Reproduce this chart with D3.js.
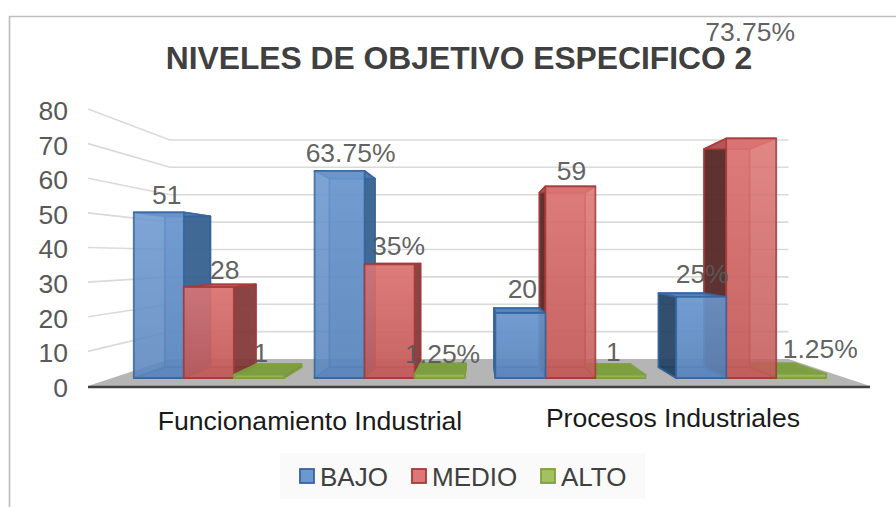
<!DOCTYPE html>
<html>
<head>
<meta charset="utf-8">
<script src="https://cdn.jsdelivr.net/npm/d3@7"></script>
<style>
  html, body { margin: 0; padding: 0; background: #fff; }
  svg { display: block; }
  text { font-family: "Liberation Sans", Arial, sans-serif; }
</style>
</head>
<body>
<div id="chart"></div>
<script>
var title = "NIVELES DE OBJETIVO ESPECIFICO 2";
var clusters = ["Funcionamiento f", "Funcionamiento %", "Procesos f", "Procesos %"];
var seriesNames = ["BAJO", "MEDIO", "ALTO"];
var bajo = [51, 63.75, 20, 25];
var medio = [28, 35, 59, 73.75];
var alto = [1, 1.25, 1, 1.25];
var bajoLabels = ["51", "63.75%", "20", "25%"];
var medioLabels = ["28", "35%", "59", "73.75%"];
var altoLabels = ["1", "1.25%", "1", "1.25%"];
var yTicks = [0, 10, 20, 30, 40, 50, 60, 70, 80];
var groupNames = ["Funcionamiento Industrial", "Procesos Industriales"];

var width = 896, height = 507;

var svg = d3.select("#chart").append("svg")
    .attr("width", width)
    .attr("height", height);

// frame around the chart
svg.append("path")
    .attr("d", "M9.5,507V16.5H" + width)
    .attr("fill", "none")
    .attr("stroke", "#bfbfbf")
    .attr("stroke-width", 1.7);

// front plane scales, everything else is pushed back toward the vanishing point
var y = d3.scaleLinear().domain([0, 80]).range([386, 109]);
var x0 = d3.scaleBand().domain(clusters).range([94.5, 865.5]).paddingInner(0.17).paddingOuter(0.085);
var x1 = d3.scaleBand().domain(seriesNames).range([0, x0.bandwidth()]);

var vp = [480, 257];
var floorX = [88, 870];
var wallDepth = 0.209, barFront = 0.062, barBack = 0.146;

function project(px, py, t) {
    return [px + t * (vp[0] - px), py + t * (vp[1] - py)];
}
function poly(pts) {
    return "M" + pts.map(function(p) { return p[0] + "," + p[1]; }).join("L") + "Z";
}

// floor
svg.append("path")
    .attr("d", poly([
        project(floorX[0], y(0), 0), project(floorX[1], y(0), 0),
        project(floorX[1], y(0), wallDepth), project(floorX[0], y(0), wallDepth)
    ]))
    .attr("fill", "#b5b5b5");

// grid lines, side wall then back wall
var line = d3.line();
svg.append("g").selectAll("path")
    .data(yTicks.slice(1))
    .enter().append("path")
    .attr("d", function(d) {
        return line([
            project(floorX[0], y(d), 0),
            project(floorX[0], y(d), wallDepth),
            project(floorX[1], y(d), wallDepth)
        ]);
    })
    .attr("fill", "none")
    .attr("stroke", "#dadada")
    .attr("stroke-width", 1.6);

svg.append("line")
    .attr("x1", floorX[0]).attr("x2", floorX[1])
    .attr("y1", y(0) + 1).attr("y2", y(0) + 1)
    .attr("stroke", "#404040")
    .attr("stroke-width", 2.5);

var yAxis = svg.append("g")
    .attr("transform", "translate(71,2)")
    .call(d3.axisLeft(y).tickValues(yTicks).tickSize(0).tickPadding(3));
yAxis.select(".domain").remove();
yAxis.selectAll("text")
    .attr("font-family", '"Liberation Sans", Arial, sans-serif')
    .attr("font-size", 26.5)
    .attr("fill", "#595959");

// face colours per series
var palette = {
    BAJO:  { front: "#5a86bd", light: "#6c98d0", right: "#2f5a8a", left: "#1d3c5c", top: "#4f7db5", edge: "#35659f" },
    MEDIO: { front: "#c25b5a", light: "#dd7675", right: "#7c3433", left: "#4a1d1d", top: "#c05a59", edge: "#a33a39" },
    ALTO:  { front: "#8cad4c", light: "#a3c063", right: "#6f8f3a", left: "#6f8f3a", top: "#7b9e3f", edge: "#7f9f3d" }
};

var defs = svg.append("defs");
defs.append("filter").attr("id", "soft")
    .append("feGaussianBlur").attr("stdDeviation", 0.45);
seriesNames.forEach(function(s) {
    var g = defs.append("linearGradient")
        .attr("id", "grad" + s)
        .attr("x1", 0).attr("x2", 0).attr("y1", 0).attr("y2", 1);
    g.append("stop").attr("offset", 0).attr("stop-color", palette[s].light);
    g.append("stop").attr("offset", 1).attr("stop-color", palette[s].front);
});

var bars = [];
clusters.forEach(function(c, i) {
    [bajo, medio, alto].forEach(function(vals, j) {
        var s = seriesNames[j];
        bars.push({
            cluster: c, series: s, value: vals[i],
            x: x0(c) + x1(s), w: x1.bandwidth()
        });
    });
});
// bars further from the centre go down first
bars.sort(function(a, b) {
    return d3.descending(Math.abs(a.x + a.w / 2 - vp[0]), Math.abs(b.x + b.w / 2 - vp[0]));
});

var barG = svg.append("g")
    .attr("filter", "url(#soft)")
    .selectAll("g")
    .data(bars)
    .enter().append("g");

function corner(d, right, up, back) {
    return project(d.x + (right ? d.w : 0), up ? y(d.value) : y(0), back ? barBack : barFront);
}
function faces(d) {
    var p = palette[d.series];
    var onLeft = d.x + d.w / 2 < vp[0];
    var out = [
        { pts: [corner(d,0,0,1), corner(d,1,0,1), corner(d,1,1,1), corner(d,0,1,1)], fill: p.front, op: 0.55 },
        { pts: [corner(d,0,0,0), corner(d,1,0,0), corner(d,1,0,1), corner(d,0,0,1)], fill: p.top, op: 0.7 }
    ];
    if (onLeft) {
        out.push({ pts: [corner(d,1,0,0), corner(d,1,1,0), corner(d,1,1,1), corner(d,1,0,1)], fill: p.right, op: 0.85 });
    } else {
        out.push({ pts: [corner(d,0,0,0), corner(d,0,1,0), corner(d,0,1,1), corner(d,0,0,1)], fill: p.left, op: 0.85 });
    }
    out.push({ pts: [corner(d,0,1,0), corner(d,1,1,0), corner(d,1,1,1), corner(d,0,1,1)], fill: p.top, op: 0.9 });
    out.push({ pts: [corner(d,0,0,0), corner(d,1,0,0), corner(d,1,1,0), corner(d,0,1,0)], fill: "url(#grad" + d.series + ")", op: 0.88 });
    return out;
}
barG.selectAll("path")
    .data(faces)
    .enter().append("path")
    .attr("d", function(f) { return poly(f.pts); })
    .attr("fill", function(f) { return f.fill; })
    .attr("fill-opacity", function(f) { return f.op; })
    .attr("stroke", function() { return palette[d3.select(this.parentNode).datum().series].edge; })
    .attr("stroke-opacity", 0.85)
    .attr("stroke-width", 1.8)
    .attr("stroke-linejoin", "round");

// data labels, placed by hand like in the original chart
var labelNudge = [
    [8, -17], [16, -17], [2, -22],
    [11, -18], [9, -18], [3, -20],
    [2, -24], [1, -15], [-7, -23],
    [1, -23], [-1, -106], [19, -25]
];
var labelTexts = [];
clusters.forEach(function(c, i) {
    labelTexts.push(
        { x: x0(c) + x1("BAJO") + x1.bandwidth() / 2, v: bajo[i], t: bajoLabels[i] },
        { x: x0(c) + x1("MEDIO") + x1.bandwidth() / 2, v: medio[i], t: medioLabels[i] },
        { x: x0(c) + x1("ALTO") + x1.bandwidth() / 2, v: alto[i], t: altoLabels[i] }
    );
});
svg.append("g").selectAll("text")
    .data(labelTexts)
    .enter().append("text")
    .attr("x", function(d, i) { return project(d.x, y(d.v), barFront)[0] + labelNudge[i][0]; })
    .attr("y", function(d, i) { return project(d.x, y(d.v), barFront)[1] + labelNudge[i][1]; })
    .attr("text-anchor", "middle")
    .attr("dominant-baseline", "central")
    .attr("font-size", 26.5)
    .attr("fill", "#595959")
    .attr("fill-opacity", 0.95)
    .text(function(d) { return d.t; });

// group names under the floor
svg.append("text").attr("x", 310).attr("y", 430).attr("text-anchor", "middle")
    .attr("font-size", 26.6).attr("fill", "#1a1a1a").text(groupNames[0]);
svg.append("text").attr("x", 673).attr("y", 427).attr("text-anchor", "middle")
    .attr("font-size", 26.6).attr("fill", "#1a1a1a").text(groupNames[1]);

svg.append("text")
    .attr("x", 459).attr("y", 69)
    .attr("text-anchor", "middle")
    .attr("font-size", 31.8)
    .attr("font-weight", "bold")
    .attr("fill", "#404040")
    .text(title);

// legend
svg.append("rect")
    .attr("x", 280).attr("y", 453).attr("width", 365).attr("height", 46)
    .attr("fill", "#fafafa");
var legendX = [300, 412, 541];
var legend = svg.append("g").selectAll("g")
    .data(seriesNames)
    .enter().append("g")
    .attr("transform", function(d, i) { return "translate(" + legendX[i] + ",469)"; });
legend.append("rect")
    .attr("width", 14).attr("height", 14)
    .attr("fill", function(d) { return palette[d].light; })
    .attr("stroke", function(d) { return palette[d].edge; })
    .attr("stroke-width", 1.8);
legend.append("text")
    .attr("x", 20).attr("y", 17)
    .attr("font-size", 26)
    .attr("fill", "#404040")
    .text(function(d) { return d; });
</script>
</body>
</html>
